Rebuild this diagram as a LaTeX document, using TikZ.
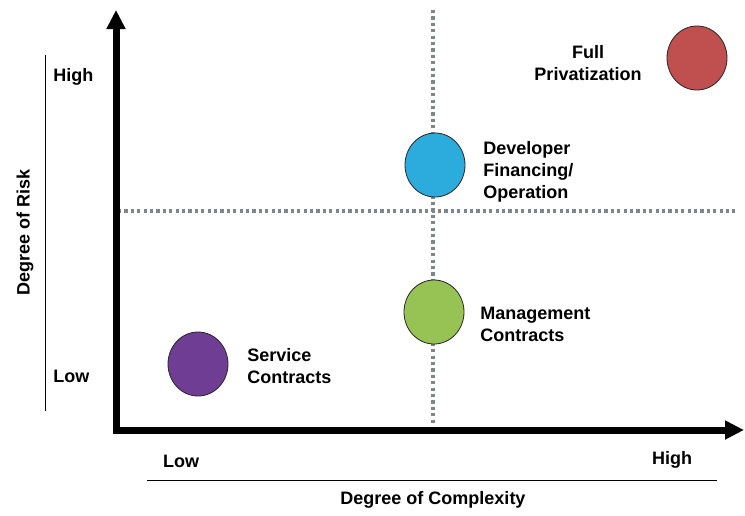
\documentclass[tikz,border=0pt]{standalone}
\usepackage{fontspec}
\setmainfont{Liberation Sans}
\usetikzlibrary{arrows.meta,shapes,positioning}
\definecolor{dealpurple}{HTML}{6F3D94}
\definecolor{dealblue}{HTML}{2BACDC}
\definecolor{dealgreen}{HTML}{97C355}
\definecolor{dealred}{HTML}{C0504F}
\definecolor{gridgray}{HTML}{7F8589}
\tikzset{
	deal/.style = {draw=black!85, thin, ellipse, minimum width=30pt, minimum height=32pt, inner sep=0pt},
	lbl/.style  = {font=\bfseries\fontsize{9}{11}\selectfont, inner sep=0pt},
	grid/.style = {draw=gridgray, line width=1.7pt, dash pattern=on 1.6pt off 1.6pt},
	axis/.style = {line width=3.5pt, line join=miter, {Triangle[length=9.5pt,width=9pt]}-{Triangle[length=9.5pt,width=9pt]}},
	rangeline/.style = {draw, thin}
}

\begin{document}
\begin{tikzpicture}[x=0.5pt,y=-0.5pt]
\useasboundingbox (0,0) rectangle (745,515);
% axes and quadrant lines
\coordinate (ytop) at (116,10);
\coordinate (xend) at (744,430);
\coordinate (hgridL) at (118,211);
\coordinate (hgridR) at (735,211);
\coordinate (vgridT) at (433,10);
\coordinate (vgridB) at (433,425);
\draw [grid] (hgridL) -- (hgridR);
\draw [grid] (vgridT) -- (vgridB);
\draw [axis] (ytop) |- (xend);

% risk scale
\coordinate (riskT) at (45,55);
\coordinate (riskB) at (45,411);
\draw [rangeline] (riskT) -- (riskB);
\node [lbl, anchor=west] (riskhigh) at (53,77) {High};
\node [lbl, anchor=west] (risklow) at (53,376) {Low};
\node [lbl, rotate=90] (risk) at (25,232) {Degree of Risk};

% complexity scale
\coordinate (cplxL) at (147,480);
\coordinate (cplxR) at (717,480);
\draw [rangeline] (cplxL) -- (cplxR);
\node [lbl] (cplxlow) at (181,461) {Low};
\node [lbl] (cplxhigh) at (672,460) {High};
\node [lbl] (cplx) at (433,500) {Degree of Complexity};

% contract types
\node [deal, fill=dealpurple] (service) at (198,364) {};
\node [deal, fill=dealgreen] (management) at (434,312) {};
\node [deal, fill=dealblue] (developer) at (435,165) {};
\node [deal, fill=dealred] (full) at (697,58) {};

\node [lbl, anchor=west, align=left] (servicetxt) at (247,366) {Service\\Contracts};
\node [lbl, anchor=west, align=left] (managementtxt) at (480,324) {Management\\Contracts};
\node [lbl, anchor=west, align=left] (developertxt) at (483,172) {Developer\\Financing/\\Operation};
\node [lbl, align=center] (fulltxt) at (588,63) {Full\\Privatization};
\end{tikzpicture}
\end{document}
